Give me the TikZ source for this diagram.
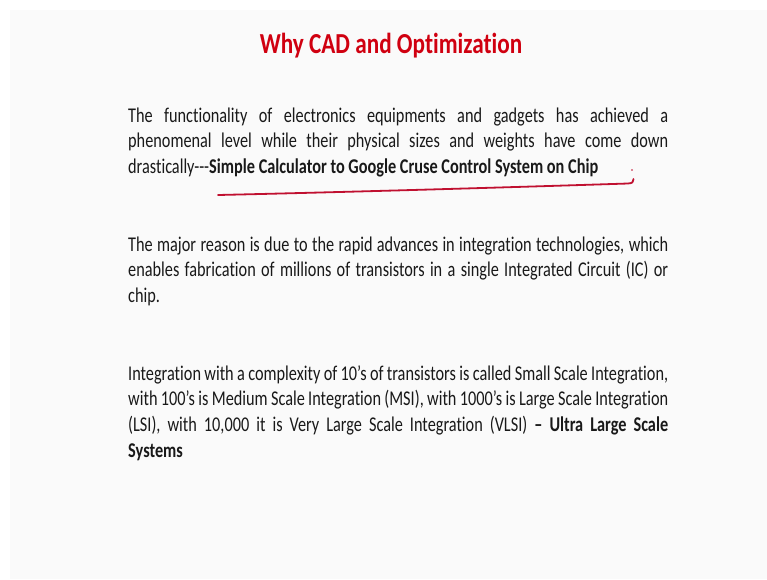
\documentclass[tikz,border=0pt]{standalone}
\usepackage{fontspec}
\setmainfont{Carlito}[FakeStretch=0.775, Ligatures={NoCommon}]
\newfontfamily\titlefont{Carlito}[FakeStretch=0.8, Ligatures={NoCommon}]
\usetikzlibrary{positioning}
\definecolor{TitleRed}{RGB}{208,0,16}
\definecolor{InkRed}{RGB}{192,16,48}
\definecolor{SlideBg}{RGB}{250,250,250}
\hyphenpenalty=10000
\exhyphenpenalty=10000
\begin{document}
\begin{tikzpicture}[x=1pt, y=-1pt,
    body/.style={text width=540pt, align=justify, inner sep=0pt, anchor=base west,
      font=\fontsize{21}{25.7}\selectfont, text=black!90}]
  \useasboundingbox (0,0) rectangle (767,579);
  \fill[white] (0,0) rectangle (767,579);
  \fill[SlideBg] (10,10) rectangle (767,579);
  \node[TitleRed, font=\titlefont\fontsize{29}{35}\selectfont\bfseries, anchor=base] (title) at (391,53) {Why CAD and Optimization};
  \node[body] (para1) at (128,122) {The functionality of electronics equipments and gadgets has achieved a\linebreak
    phenomenal level while their physical sizes and weights have come down\linebreak
    drastically-{}-{}-\textbf{Simple Calculator to Google Cruse Control System on Chip}};
  \node[body] (para2) at (128,251) {The major reason is due to the rapid advances in integration technologies, which\linebreak
    enables fabrication of millions of transistors in a single Integrated Circuit (IC) or\linebreak
    chip.};
  \node[body] (para3) at (128,380) {Integration with a complexity of 10’s of transistors is called Small Scale Integration,\linebreak
    with 100’s is Medium Scale Integration (MSI), with 1000’s is Large Scale Integration\linebreak
    (LSI), with 10,000 it is Very Large Scale Integration (VLSI) \textbf{– Ultra Large Scale\linebreak
    Systems}};
  % pen stroke under the bold part
  \draw[InkRed, line width=1.8pt, line cap=round] (218,195) .. controls (350,192) and (520,187) .. (628,183.5)
    .. controls (632.5,183) .. (633.5,179);
  \fill[InkRed] (632,170) circle (0.9);
\end{tikzpicture}
\end{document}
